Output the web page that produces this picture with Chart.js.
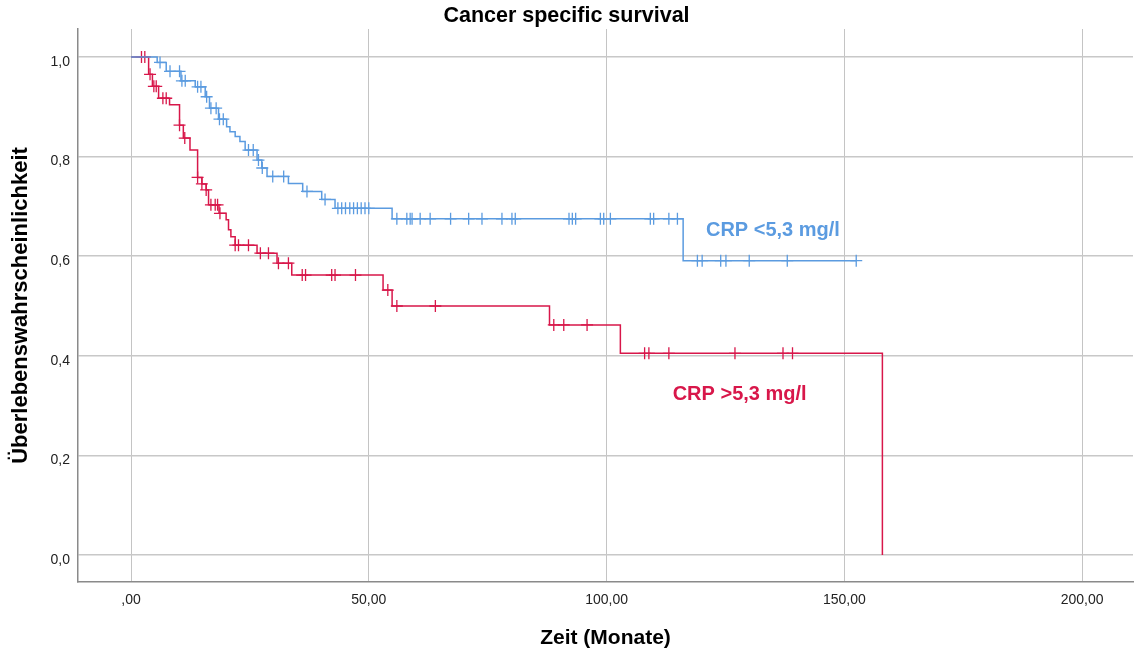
<!DOCTYPE html>
<html>
<head>
<meta charset="utf-8">
<script src="https://cdn.jsdelivr.net/npm/chart.js@4.4.1/dist/chart.umd.min.js"></script>
<style>
  html, body { margin: 0; padding: 0; background: #ffffff; }
  #wrap { width: 1135px; height: 653px; }
</style>
</head>
<body>
<div id="wrap"><canvas id="km" width="1135" height="653"></canvas></div>
<script>
// Kaplan-Meier steps: time of each event (months) and survival after it
const lowTimes = [0, 5.5, 7.4, 10.5, 13.5, 15.6, 16.5, 18.4, 20.1, 20.8, 21.9, 22.9, 24.0, 26.5, 27.5, 28.6, 33.1, 36.1, 40.1, 42.9, 54.9, 116.1, 152.5];
const lowSurv  = [1.0, 0.989, 0.971, 0.952, 0.940, 0.920, 0.897, 0.875, 0.860, 0.850, 0.840, 0.830, 0.813, 0.793, 0.777, 0.760, 0.746, 0.730, 0.714, 0.696, 0.675, 0.591, 0.591];
const lowCensored = [6.1, 8.2, 10.2, 10.7, 11.4, 14.0, 14.7, 15.9, 16.8, 17.9, 18.6, 19.4, 24.7, 25.7, 26.8, 27.6, 29.8, 32.1, 37.0, 40.8,
  43.5, 44.3, 45.1, 46.0, 46.8, 47.6, 48.4, 49.2, 50.0, 55.9, 58.0, 58.7, 59.1, 60.8, 62.9, 67.2, 71.0, 73.8, 78.0, 80.1, 80.8,
  92.1, 92.8, 93.5, 98.7, 99.4, 100.8, 109.2, 109.9, 113.1, 114.9, 119.1, 120.1, 124.0, 125.1, 130.0, 138.0, 152.5];

const highTimes = [0, 3.7, 4.5, 5.8, 8.1, 10.2, 11.0, 12.4, 14.0, 14.9, 15.8, 16.3, 18.5, 20.0, 20.5, 21.0, 21.9, 26.5, 30.7, 33.8, 53.0, 54.9, 88.0, 102.9, 158.0];
const highSurv  = [1.0, 0.965, 0.941, 0.917, 0.904, 0.863, 0.837, 0.813, 0.758, 0.745, 0.733, 0.703, 0.686, 0.673, 0.653, 0.639, 0.622, 0.606, 0.586, 0.562, 0.532, 0.500, 0.462, 0.405, 0.0];
const highCensored = [2.2, 2.9, 4.0, 4.8, 5.3, 6.7, 7.4, 10.2, 11.3, 14.0, 14.9, 15.8, 16.8, 17.7, 18.2, 18.7, 21.9, 22.6, 24.7, 27.2, 28.9,
  31.0, 33.1, 36.0, 36.7, 42.2, 42.9, 47.2, 54.0, 55.9, 64.0, 88.9, 91.0, 95.9, 108.0, 108.9, 113.1, 127.0, 137.1, 139.1];

const xTickValues = [0, 50, 100, 150, 200];
const xTickLabels = [',00', '50,00', '100,00', '150,00', '200,00'];
const yTickValues = [0, 0.2, 0.4, 0.6, 0.8, 1.0];
const yTickLabels = ['0,0', '0,2', '0,4', '0,6', '0,8', '1,0'];

const groupNames = ['CRP <5,3 mg/l', 'CRP >5,3 mg/l'];

const BLUE = '#5b9be0';
const RED = '#d8174a';
const FONT = "'Liberation Sans', Arial, sans-serif";

function curvePoints(times, surv) {
  return times.map((t, i) => ({ x: t, y: surv[i] }));
}
// survival level of the step curve at a given time (for placing censor ticks)
function levelAt(times, surv, t) {
  let s = surv[0];
  for (let i = 0; i < times.length; i++) { if (times[i] <= t) s = surv[i]; }
  return s;
}
function censorPoints(cens, times, surv) {
  return cens.map(t => ({ x: t, y: levelAt(times, surv, t) }));
}

// group names written next to their curves
const groupLabelPlugin = {
  id: 'groupLabels',
  afterDatasetsDraw(chart) {
    const { ctx, scales: { x, y } } = chart;
    ctx.save();
    ctx.font = 'bold 20px ' + FONT;
    ctx.textBaseline = 'middle';
    ctx.textAlign = 'left';
    ctx.fillStyle = BLUE;
    ctx.fillText(groupNames[0], x.getPixelForValue(120.9), y.getPixelForValue(0.651));
    ctx.fillStyle = RED;
    ctx.fillText(groupNames[1], x.getPixelForValue(113.9), y.getPixelForValue(0.322));
    ctx.restore();
  }
};

new Chart(document.getElementById('km'), {
  type: 'line',
  data: {
    datasets: [
      { label: groupNames[0], data: curvePoints(lowTimes, lowSurv), borderColor: BLUE, borderWidth: 1.5,
        stepped: 'before', pointRadius: 0, fill: false },
      { label: groupNames[1], data: curvePoints(highTimes, highSurv), borderColor: RED, borderWidth: 1.5,
        stepped: 'before', pointRadius: 0, fill: false },
      { label: groupNames[0] + ' zensiert', data: censorPoints(lowCensored, lowTimes, lowSurv), showLine: false,
        pointStyle: 'cross', pointRadius: 6, pointBorderWidth: 1.3, borderColor: BLUE, backgroundColor: BLUE },
      { label: groupNames[1] + ' zensiert', data: censorPoints(highCensored, highTimes, highSurv), showLine: false,
        pointStyle: 'cross', pointRadius: 6, pointBorderWidth: 1.3, borderColor: RED, backgroundColor: RED }
    ]
  },
  options: {
    responsive: false,
    animation: false,
    devicePixelRatio: 1,
    layout: { autoPadding: false, padding: { left: 0, right: 2, top: 0, bottom: 0 } },
    plugins: {
      legend: { display: false },
      tooltip: { enabled: false },
      title: {
        display: true, text: 'Cancer specific survival', color: '#000',
        font: { family: FONT, size: 21.5, weight: 'bold', lineHeight: 1.2 },
        padding: { top: 3.4, bottom: -0.2 }
      }
    },
    scales: {
      x: {
        type: 'linear', min: -11.15, max: 210.7,
        afterBuildTicks: s => { s.ticks = xTickValues.map(v => ({ value: v })); },
        ticks: {
          callback: (v) => xTickLabels[xTickValues.indexOf(v)],
          color: '#222', font: { family: FONT, size: 14 }, padding: 10, maxRotation: 0, autoSkip: false
        },
        grid: { color: '#c4c4c4', lineWidth: 1, drawTicks: false, tickLength: 0 },
        border: { display: true, color: '#8a8a8a', width: 1.5 },
        title: { display: true, text: 'Zeit (Monate)', color: '#000',
          font: { family: FONT, size: 21, weight: 'bold', lineHeight: 1.2 }, padding: { top: 0, bottom: 2.4 } },
        afterFit: s => { s.height = 71; s.paddingLeft = 0; s.paddingRight = 0; }
      },
      y: {
        type: 'linear', min: -0.054, max: 1.056,
        afterBuildTicks: s => { s.ticks = yTickValues.map(v => ({ value: v })); },
        ticks: {
          callback: (v) => yTickLabels[yTickValues.indexOf(v)],
          color: '#222', font: { family: FONT, size: 14 }, padding: 8, autoSkip: false, labelOffset: 5
        },
        grid: { color: '#c8c8c8', lineWidth: 1.6, drawTicks: false, tickLength: 0 },
        border: { display: true, color: '#8a8a8a', width: 1.5 },
        title: { display: true, text: 'Überlebenswahrscheinlichkeit', color: '#000',
          font: { family: FONT, size: 22, weight: 'bold', lineHeight: 1.2 }, padding: { top: 8, bottom: 0 } },
        afterFit: s => { s.width = 78; s.paddingTop = 0; s.paddingBottom = 0; }
      }
    }
  },
  plugins: [groupLabelPlugin]
});
</script>
</body>
</html>
